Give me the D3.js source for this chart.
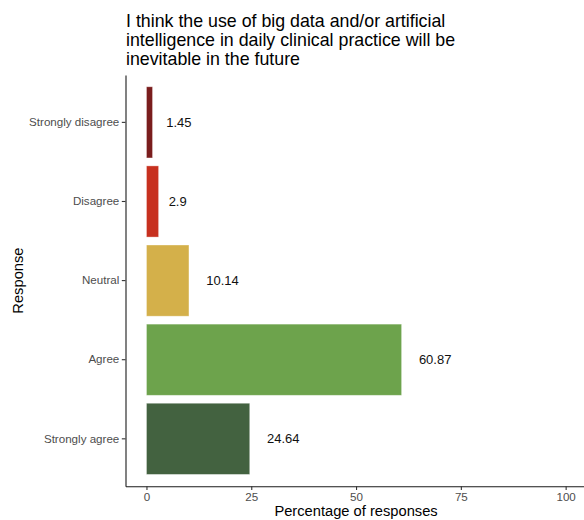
<!DOCTYPE html>
<html>
<head>
<meta charset="utf-8">
<script src="https://cdn.jsdelivr.net/npm/d3@7"></script>
<style>
  html, body { margin: 0; padding: 0; background: #fff; }
  svg { display: block; }
  text { font-family: "Liberation Sans", Arial, sans-serif; }
</style>
</head>
<body>
<svg id="chart" width="584" height="520"></svg>
<script>
const categories = ["Strongly disagree", "Disagree", "Neutral", "Agree", "Strongly agree"];
const values = [1.45, 2.9, 10.14, 60.87, 24.64];
const colors = ["#7a1d1d", "#c7301f", "#d4b04a", "#6da34c", "#436240"];
const xTicks = [0, 25, 50, 75, 100];
const titleLines = [
  "I think the use of big data and/or artificial",
  "intelligence in daily clinical practice will be",
  "inevitable in the future"
];
const xLabel = "Percentage of responses";
const yLabel = "Response";

const svg = d3.select("#chart");
const pLeft = 125.5, pRight = 586.6, pTop = 74.9, pBottom = 486.3;

const x = d3.scaleLinear().domain([-5, 105]).range([pLeft, pRight]);
const y = d3.scaleBand().domain(categories).range([pTop, pBottom])
  .paddingInner(0.1).paddingOuter(0.15);

// title
svg.append("g").selectAll("text").data(titleLines).join("text")
  .attr("x", 126)
  .attr("y", (d, i) => 27.3 + i * 19)
  .attr("font-size", 17.8)
  .attr("fill", "#000")
  .text(d => d);

// bars
const data = categories.map((c, i) => ({ c, v: values[i], col: colors[i] }));
svg.append("g").selectAll("rect").data(data).join("rect")
  .attr("x", x(0))
  .attr("y", d => y(d.c))
  .attr("width", d => x(d.v) - x(0))
  .attr("height", y.bandwidth())
  .attr("fill", d => d.col)
  .attr("stroke", "rgba(255,255,255,0.45)")
  .attr("stroke-width", 0.8);

// value labels (hjust ~ -0.5)
const labels = svg.append("g").selectAll("text").data(data).join("text")
  .attr("y", d => y(d.c) + y.bandwidth() / 2)
  .attr("dy", "0.35em")
  .attr("font-size", 13)
  .attr("fill", "#111")
  .text(d => String(d.v));
labels.each(function(d) {
  const w = this.getComputedTextLength();
  d3.select(this).attr("x", x(d.v) + 0.5 * w + 1);
});

// x axis
const xAxis = svg.append("g").attr("transform", `translate(0,${pBottom})`)
  .call(d3.axisBottom(x).tickValues(xTicks).tickSize(3.7).tickPadding(2.5).tickSizeOuter(0));
xAxis.select(".domain").attr("stroke", "#1a1a1a").attr("stroke-width", 1.1);
xAxis.selectAll(".tick line").attr("stroke", "#333").attr("stroke-width", 1.1);
xAxis.selectAll(".tick text").attr("font-size", 11.6).attr("fill", "#4d4d4d")
  .attr("font-family", "Liberation Sans, Arial, sans-serif");

// y axis
const yAxis = svg.append("g").attr("transform", `translate(${pLeft},0)`)
  .call(d3.axisLeft(y).tickSize(3.7).tickPadding(2.5).tickSizeOuter(0));
yAxis.select(".domain").attr("stroke", "#1a1a1a").attr("stroke-width", 1.1);
yAxis.selectAll(".tick line").attr("stroke", "#333").attr("stroke-width", 1.1);
yAxis.selectAll(".tick text").attr("font-size", 11.6).attr("fill", "#4d4d4d")
  .attr("font-family", "Liberation Sans, Arial, sans-serif");

// axis titles
svg.append("text")
  .attr("x", (pLeft + pRight) / 2)
  .attr("y", 515.7)
  .attr("text-anchor", "middle")
  .attr("font-size", 14.7)
  .attr("fill", "#000")
  .text(xLabel);

svg.append("text")
  .attr("transform", `translate(22.5,${(pTop + pBottom) / 2}) rotate(-90)`)
  .attr("text-anchor", "middle")
  .attr("font-size", 14.7)
  .attr("fill", "#000")
  .text(yLabel);
</script>
</body>
</html>
